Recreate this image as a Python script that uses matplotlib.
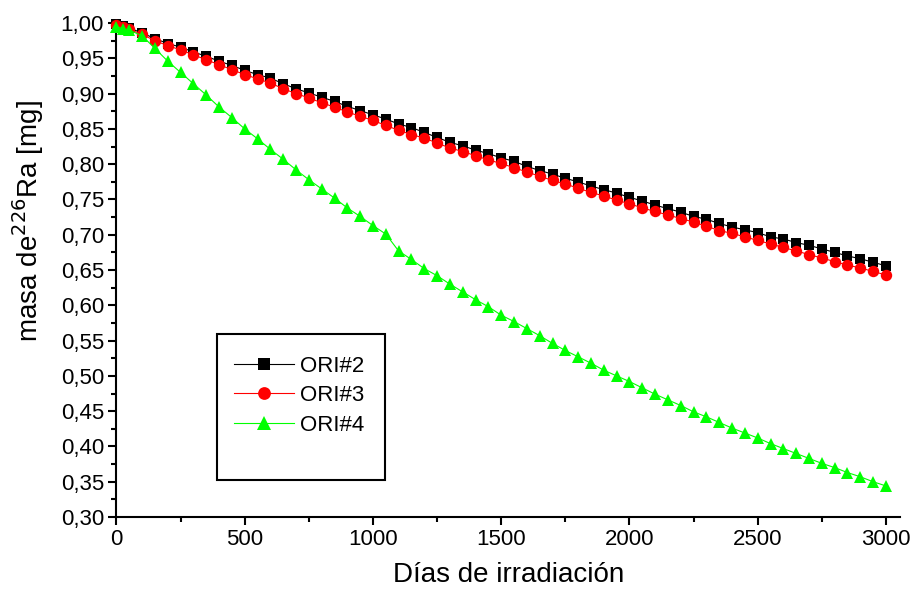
import matplotlib
matplotlib.use("Agg")
import matplotlib.pyplot as plt
from matplotlib.ticker import FuncFormatter, MultipleLocator
from matplotlib.lines import Line2D
from matplotlib.patches import Rectangle

plt.rcParams['font.family'] = ['Liberation Sans', 'DejaVu Sans']

# days of irradiation
dias = [0, 25, 50] + list(range(100, 3001, 50))

# mass of Ra-226 [mg] for each source
ori2 = [0.998, 0.996, 0.993, 0.986, 0.978, 0.971, 0.966, 0.959, 0.953, 0.946,
        0.940, 0.933, 0.927, 0.922, 0.914, 0.907, 0.901, 0.895, 0.889, 0.882,
        0.876, 0.870, 0.864, 0.857, 0.852, 0.845, 0.838, 0.831, 0.826, 0.820,
        0.815, 0.809, 0.804, 0.797, 0.791, 0.786, 0.780, 0.775, 0.769, 0.764,
        0.759, 0.753, 0.748, 0.742, 0.737, 0.732, 0.726, 0.722, 0.716, 0.711,
        0.707, 0.703, 0.697, 0.694, 0.689, 0.685, 0.680, 0.675, 0.670, 0.666,
        0.661, 0.656]
ori3 = [0.997, 0.995, 0.991, 0.984, 0.975, 0.968, 0.962, 0.955, 0.948, 0.941,
        0.934, 0.927, 0.921, 0.915, 0.907, 0.900, 0.894, 0.887, 0.881, 0.874,
        0.868, 0.862, 0.855, 0.848, 0.842, 0.837, 0.830, 0.823, 0.818, 0.812,
        0.806, 0.801, 0.795, 0.789, 0.783, 0.777, 0.772, 0.766, 0.760, 0.755,
        0.749, 0.744, 0.738, 0.733, 0.728, 0.723, 0.718, 0.712, 0.706, 0.702,
        0.697, 0.692, 0.687, 0.682, 0.677, 0.672, 0.667, 0.662, 0.657, 0.653,
        0.648, 0.643]
ori4 = [0.995, 0.992, 0.990, 0.982, 0.964, 0.946, 0.930, 0.914, 0.898, 0.881,
        0.866, 0.850, 0.836, 0.821, 0.807, 0.792, 0.778, 0.765, 0.752, 0.738,
        0.726, 0.713, 0.701, 0.677, 0.665, 0.652, 0.642, 0.630, 0.619, 0.608,
        0.598, 0.586, 0.577, 0.567, 0.557, 0.546, 0.536, 0.527, 0.518, 0.508,
        0.500, 0.492, 0.483, 0.474, 0.466, 0.458, 0.449, 0.442, 0.434, 0.426,
        0.419, 0.412, 0.404, 0.397, 0.390, 0.383, 0.376, 0.370, 0.363, 0.357,
        0.350, 0.344]

labels = ['ORI#2', 'ORI#3', 'ORI#4']
colors = ['#000000', '#ff0000', '#00ff00']
markers = ['s', 'o', '^']
msizes = [7.4, 8.2, 8.7]

fig = plt.figure(figsize=(9.13, 5.92), dpi=100)
ax = fig.add_axes([0.1276, 0.1267, 0.8582, 0.8343])

series = [ori2, ori3, ori4]
for i in range(3):
    ax.plot(dias, series[i], color=colors[i], lw=0.8, marker=markers[i],
            ms=msizes[i], mec=colors[i], mew=0, zorder=3 + i, clip_on=False)

ax.set_xlim(0, 3055)
ax.set_ylim(0.30, 1.00)
ax.xaxis.set_major_locator(MultipleLocator(500))
ax.xaxis.set_minor_locator(MultipleLocator(250))
ax.yaxis.set_major_locator(MultipleLocator(0.05))
ax.yaxis.set_minor_locator(MultipleLocator(0.025))
ax.yaxis.set_major_formatter(FuncFormatter(lambda v, p: ('%.2f' % v).replace('.', ',')))

for s in ['top', 'right']:
    ax.spines[s].set_visible(False)
for s in ['left', 'bottom']:
    ax.spines[s].set_linewidth(1.5)

ax.tick_params(which='major', direction='out', length=6, width=1.5, labelsize=16, pad=3)
ax.tick_params(which='minor', direction='out', length=3.5, width=1.5)

ax.set_xlabel('Días de irradiación', fontsize=20)
ax.set_ylabel('masa de$^{226}$Ra [mg]', fontsize=20)
ax.xaxis.set_label_coords(0.5, -0.092)
ax.yaxis.set_label_coords(-0.09, 0.6)

handles = [Line2D([], [], color=colors[i], lw=0.8, marker=markers[i],
                  ms=msizes[i] + 1, mew=0) for i in range(3)]
leg = fig.legend(handles, labels, loc='upper left', bbox_to_anchor=(0.256, 0.399),
                 frameon=False, fontsize=16, handlelength=2.7, handletextpad=0.3,
                 labelspacing=0.38, borderpad=0, borderaxespad=0)
fig.add_artist(Rectangle((0.238, 0.189), 0.1837, 0.247, transform=fig.transFigure,
                         fill=False, edgecolor='black', lw=1.5))

fig.savefig('out.png', dpi=100)
